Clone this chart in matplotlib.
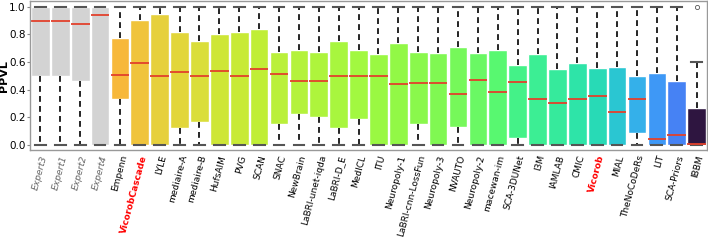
import numpy as np
import matplotlib
matplotlib.use("Agg")
import matplotlib.pyplot as plt

# ---- DATA ----
teams = ["Expert3", "Expert1", "Expert2", "Expert4", "Empenn", "VicorobCascade", "LYLE",
         "mediaire-A", "mediaire-B", "HufsAIM", "PVG", "SCAN", "SNAC", "NewBrain",
         "LaBRI-unet-iqda", "LaBRI-D_E", "MedICL", "ITU", "Neuropoly-1", "LaBRI-cnn-LossFun",
         "Neuropoly-3", "NVAUTO", "Neuropoly-2", "macewan-im", "SCA-3DUNet", "I3M", "IAMLAB",
         "CMIC", "Vicorob", "MIAL", "TheNoCoDeRs", "LIT", "SCA-Priors", "IBBM"]
q1 = [0.50, 0.50, 0.46, 0.0, 0.336, 0.0, 0.0, 0.125, 0.168, 0.0, 0.0, 0.0, 0.156, 0.228,
      0.202, 0.122, 0.185, 0.0, 0.0, 0.151, 0.0, 0.130, 0.0, 0.0, 0.048, 0.0, 0.0,
      0.0, 0.0, 0.0, 0.084, 0.0, 0.0, 0.0]
med = [0.898, 0.898, 0.872, 0.939, 0.509, 0.593, 0.50, 0.528, 0.50, 0.536, 0.50, 0.550, 0.516,
       0.466, 0.466, 0.50, 0.50, 0.50, 0.442, 0.451, 0.451, 0.368, 0.473, 0.382, 0.456, 0.334,
       0.305, 0.336, 0.355, 0.242, 0.336, 0.043, 0.072, 0.005]
q3 = [1.0, 1.0, 1.0, 1.0, 0.771, 0.903, 0.944, 0.815, 0.75, 0.802, 0.817, 0.836, 0.675, 0.687,
      0.673, 0.75, 0.685, 0.66, 0.738, 0.675, 0.665, 0.711, 0.665, 0.687, 0.581, 0.66,
      0.548, 0.593, 0.557, 0.565, 0.50, 0.519, 0.461, 0.271]
whislo = [0.0] * 34
whishi = [1.0] * 33 + [0.60]
outliers = {"IBBM": [1.0]}
highlight = ["VicorobCascade", "Vicorob"]

# ---- STYLE ----
expert_color = "#d3d3d3"
team_colors = ["#f7b83a", "#f0c43c", "#e6d03c", "#e2d63a", "#dade3a", "#cee636", "#c8ea36",
               "#c0ee36", "#baf03a", "#b4f23c", "#aef43c", "#a8f63e", "#a2f840", "#9af842",
               "#92f846", "#8af84c", "#80f852", "#76f85a", "#6af864", "#58f870", "#44f288",
               "#3cee94", "#36ea9c", "#2ee4a8", "#28dab6", "#2ac6d2", "#34b0ea", "#3e98f6",
               "#4682f4", "#2e1540"]

stats = []
for i, t in enumerate(teams):
    stats.append(dict(label=t, q1=q1[i], med=med[i], q3=q3[i],
                      whislo=whislo[i], whishi=whishi[i], fliers=outliers.get(t, [])))

colors = [expert_color if t.startswith("Expert") else None for t in teams]
k = 0
for i in range(len(colors)):
    if colors[i] is None:
        colors[i] = team_colors[k]
        k += 1

fig = plt.figure(figsize=(7.08, 2.43), dpi=100)
ax = fig.add_axes([0.043, 0.383, 0.955, 0.612])

bp = ax.bxp(stats, positions=np.arange(len(teams)), widths=0.94, patch_artist=True,
            manage_ticks=False,
            boxprops=dict(edgecolor="white", linewidth=1.0),
            medianprops=dict(color="#e2412c", linewidth=1.3),
            whiskerprops=dict(color="black", linewidth=1.2, linestyle=(0, (3.5, 2.5))),
            capprops=dict(color="#555555", linewidth=1.5),
            flierprops=dict(marker="o", markersize=3, markerfacecolor="none",
                            markeredgecolor="#555555", markeredgewidth=0.6))
for patch, c in zip(bp["boxes"], colors):
    patch.set_facecolor(c)
# shorter caps, as in the reference
for cap in bp["caps"]:
    x0, x1 = cap.get_xdata()
    xc = (x0 + x1) / 2
    cap.set_xdata([xc - 0.27, xc + 0.27])

ax.set_xlim(-0.5, len(teams) - 0.5)
ax.set_ylim(-0.035, 1.04)
ax.set_yticks([0.0, 0.2, 0.4, 0.6, 0.8, 1.0])
ax.tick_params(axis="y", labelsize=7.5, length=2, pad=1.5, color="#888888")
ax.tick_params(axis="x", length=0, pad=3)
ax.set_ylabel("PPVL", fontsize=8, fontweight="bold", va="center")
ax.yaxis.set_label_coords(-0.0385, 0.5)
ax.set_xticks(np.arange(len(teams)))
ax.set_xticklabels(teams, rotation=75, ha="right", rotation_mode="anchor", fontsize=6.5)
for lab in ax.get_xticklabels():
    t = lab.get_text()
    if t.startswith("Expert"):
        lab.set_color("#666666")
        lab.set_style("italic")
    elif t in highlight:
        lab.set_color("red")
        lab.set_fontweight("bold")
for s in ax.spines.values():
    s.set_color("#999999")
    s.set_linewidth(1.0)

fig.savefig("out.png", dpi=100)
